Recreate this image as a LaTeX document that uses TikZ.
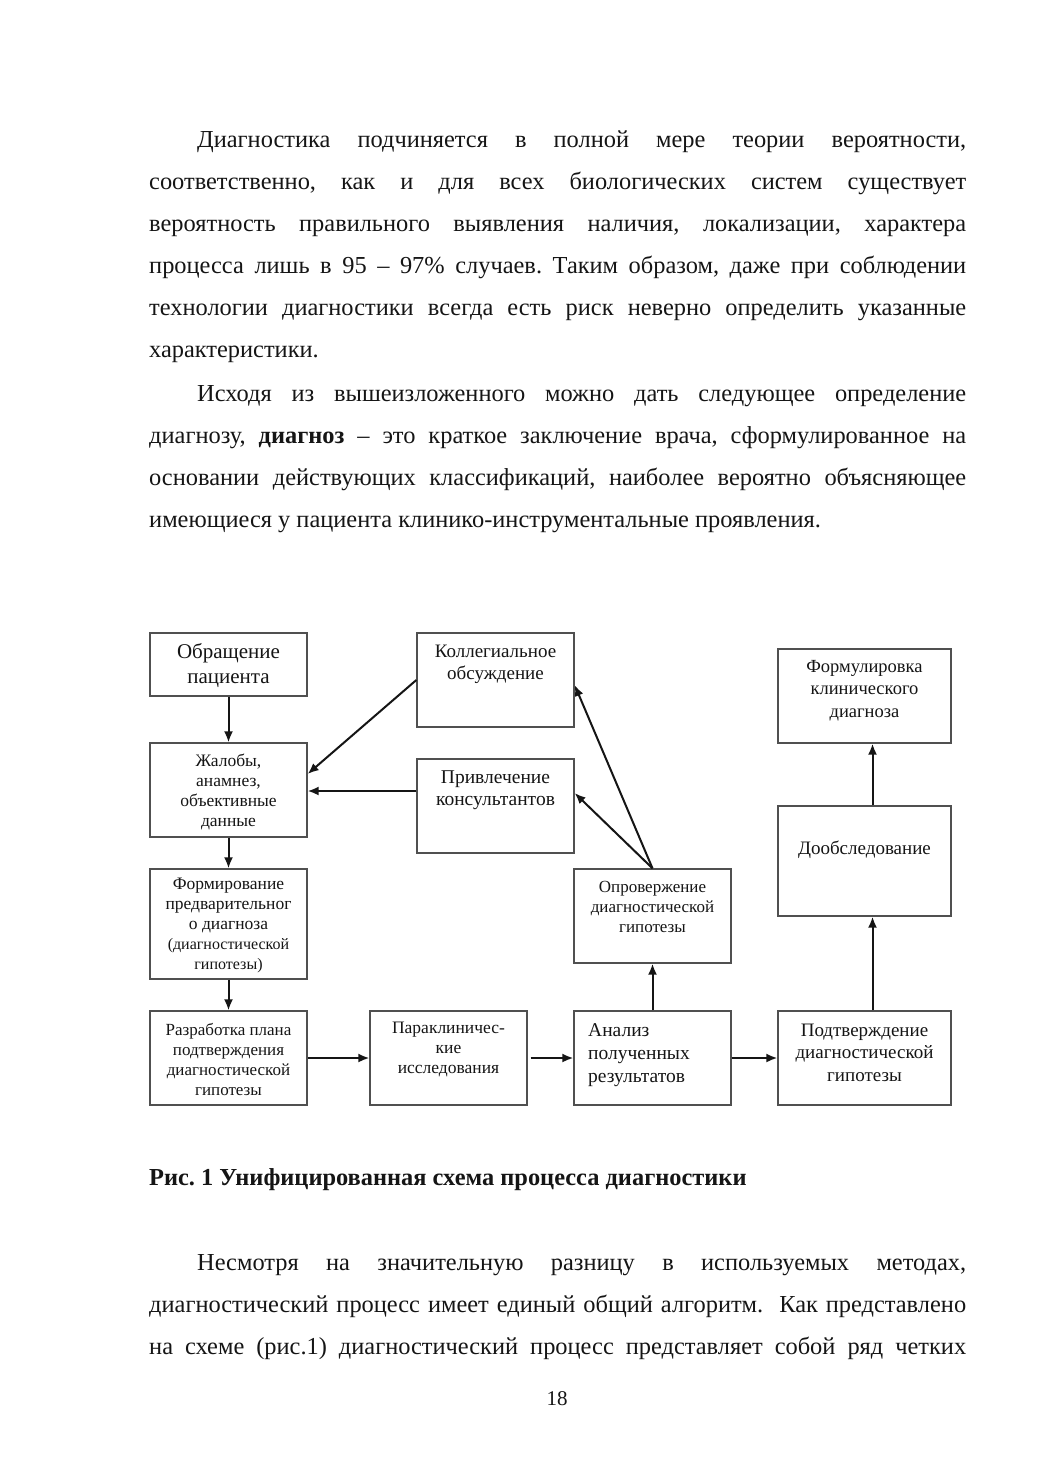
\documentclass[tikz,border=0pt]{standalone}
\usepackage{fontspec}
\setmainfont{Liberation Serif}
\usetikzlibrary{calc, arrows.meta}
\definecolor{boxgray}{HTML}{505050}
\definecolor{inkdark}{HTML}{151515}

\begin{document}
\frenchspacing
\begin{tikzpicture}[
    x=1pt, y=-1pt,
    blok/.style={draw=boxgray, line width=1.3pt, inner sep=0pt, minimum width=157pt, minimum height=94pt},
    txt/.style={inner sep=0pt, align=center, text=inkdark},
    abzac/.style={inner sep=0pt, anchor=base west, text width=817pt, align=justify, text=inkdark,
        font=\fontsize{24.4}{42}\selectfont},
    arr/.style={line width=2pt, inkdark, -{Latex[length=11pt, width=9pt]}}
]

% Page
\fill[white] (0,0) rectangle (1039,1471);
\useasboundingbox (0,0) rectangle (1039,1471);

% Text above the scheme
\node[abzac] (abz1) at (149,148) {\hspace*{48pt}Диагностика подчиняется в полной мере теории вероятности,\linebreak
соответственно, как и для всех биологических систем существует\linebreak
вероятность правильного выявления наличия, локализации, характера\linebreak
процесса лишь в 95 – 97\% случаев. Таким образом, даже при соблюдении\linebreak
технологии диагностики всегда есть риск неверно определить указанные\linebreak
характеристики.};
\node[abzac] (abz2) at (149,401) {\hspace*{48pt}Исходя из вышеизложенного можно дать следующее определение\linebreak
диагнозу, \textbf{диагноз} – это краткое заключение врача, сформулированное на\linebreak
основании действующих классификаций, наиболее вероятно объясняющее\linebreak
имеющиеся у пациента клинико-инструментальные проявления.};

% Boxes
\node[blok, minimum height=63pt] (obr) at (228.5,664.5) {};
\node[blok] (zhal) at (228.5,790) {};
\node[blok, minimum height=110pt] (form) at (228.5,924) {};
\node[blok] (razr) at (228.5,1058) {};
\node[blok] (parakl) at (448.5,1058) {};
\node[blok] (koll) at (495.5,680) {};
\node[blok] (priv) at (495.5,806) {};
\node[blok] (oprov) at (652.5,916) {};
\node[blok] (anal) at (652.5,1058) {};
\node[blok, minimum width=173pt] (formul) at (864.5,696) {};
\node[blok, minimum width=173pt, minimum height=110pt] (doob) at (864.5,861) {};
\node[blok, minimum width=173pt] (podtv) at (864.5,1058) {};

% Box texts
\node[txt, font=\fontsize{21}{25}\selectfont] (obr-t) at (228.5,665.5) {Обращение\\пациента};
\node[txt, font=\fontsize{17.5}{20}\selectfont] (zhal-t) at (228.5,791.5) {Жалобы,\\анамнез,\\объективные\\данные};
\node[txt, font=\fontsize{17.5}{20}\selectfont] (form-t) at (228.5,925.5) {Формирование\\предварительног\\о диагноза\\\fontsize{16}{18.5}\selectfont(диагностической\\\fontsize{16}{18.5}\selectfont гипотезы)};
\node[txt, font=\fontsize{17}{20}\selectfont] (razr-t) at (228.5,1059) {Разработка плана\\подтверждения\\диагностической\\гипотезы};
\node[txt, font=\fontsize{17.5}{20}\selectfont] (parakl-t) at (448.5,1049) {Параклиничес-\\кие\\исследования};
\node[txt, font=\fontsize{19}{22}\selectfont] (koll-t) at (495.5,664) {Коллегиальное\\обсуждение};
\node[txt, font=\fontsize{19.5}{22}\selectfont] (priv-t) at (495.5,790) {Привлечение\\консультантов};
\node[txt, font=\fontsize{17}{20}\selectfont] (oprov-t) at (652.5,907) {Опровержение\\диагностической\\гипотезы};
\node[txt, align=left, anchor=west, font=\fontsize{19.5}{23}\selectfont] (anal-t) at (588,1055) {Анализ\\полученных\\результатов};
\node[txt, font=\fontsize{18.5}{22.5}\selectfont] (formul-t) at (864.5,690.5) {Формулировка\\клинического\\диагноза};
\node[txt, font=\fontsize{19}{22}\selectfont] (doob-t) at (864.5,850) {Дообследование};
\node[txt, font=\fontsize{19}{22.5}\selectfont] (podtv-t) at (864.5,1052.5) {Подтверждение\\диагностической\\гипотезы};

% Arrows
\draw[arr] (obr) -- (zhal);
\draw[arr] (zhal) -- (form);
\draw[arr] (form) -- (razr);
\draw[arr] (razr) -- (parakl);
\draw[arr, shorten <=3pt] (parakl) -- (anal);
\draw[arr] (anal) -- (podtv);
\draw[arr] (anal) -- (oprov);
\draw[arr] ([xshift=8pt]podtv.north) -- ([xshift=8pt]doob.south);
\draw[arr] ([xshift=8pt]doob.north) -- ([xshift=8pt]formul.south);
\draw[arr] (oprov.north) -- ([yshift=-5pt]koll.east);
\draw[arr] (oprov.north) -- ([yshift=13pt]priv.east);
\draw[arr] (koll.west) -- ([yshift=16pt]zhal.east);
\draw[arr] ([yshift=15pt]priv.west) -- ([yshift=15pt]priv.west -| zhal.east);

% Caption
\node[inner sep=0pt, anchor=base west, text=inkdark, font=\fontsize{24.4}{30}\selectfont\bfseries] (podpis) at (149,1185) {Рис. 1 Унифицированная схема процесса диагностики};

% Text below the scheme
\node[abzac] (abz3) at (149,1270) {\hspace*{48pt}Несмотря на значительную разницу в используемых методах,\linebreak
диагностический процесс имеет единый общий алгоритм.~ Как представлено\linebreak
на схеме (рис.1) диагностический процесс представляет собой ряд четких\parfillskip=0pt\par};

% Page number
\node[inner sep=0pt, anchor=base, text=inkdark, font=\fontsize{21}{25}\selectfont] (stranica) at (557,1405) {18};

\end{tikzpicture}
\end{document}
